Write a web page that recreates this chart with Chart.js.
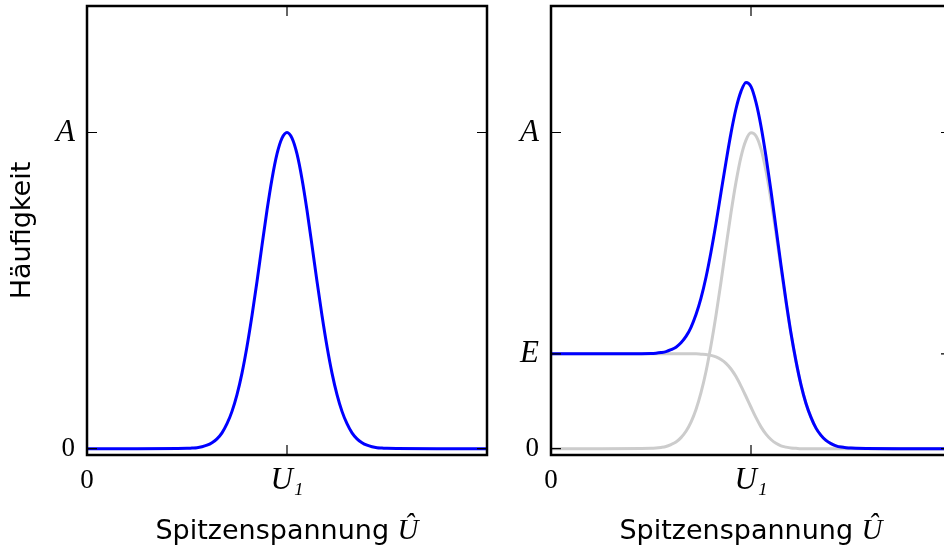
<!DOCTYPE html>
<html>
<head>
<meta charset="utf-8">
<script src="https://cdn.jsdelivr.net/npm/chart.js@4.4.1/dist/chart.umd.min.js"></script>
<style>
html, body { margin: 0; padding: 0; background: #fff; overflow: hidden; width: 944px; height: 549px; }
canvas { position: absolute; top: 0; }
#left { left: 0; }
#right { left: 464px; }
</style>
</head>
<body>
<canvas id="left" width="500" height="549"></canvas>
<canvas id="right" width="500" height="549"></canvas>
<script>
// sample positions along the voltage axis (U1 = 1)
var xs = [0, 0.25, 0.5, 0.525, 0.55, 0.575, 0.6, 0.625, 0.65, 0.675, 0.7, 0.725, 0.75, 0.775, 0.8,
	0.825, 0.85, 0.875, 0.9, 0.925, 0.95, 0.975, 1.0, 1.025, 1.05, 1.075, 1.1, 1.125, 1.15, 1.175,
	1.2, 1.225, 1.25, 1.275, 1.3, 1.325, 1.35, 1.375, 1.4, 1.425, 1.45, 1.475, 1.5, 1.75, 2.0];

// left panel: single peak
var peakLeft = [0, 0, 0.001, 0.002, 0.003, 0.006, 0.011, 0.019, 0.031, 0.050, 0.079, 0.118, 0.171, 0.239, 0.323,
	0.421, 0.529, 0.643, 0.754, 0.853, 0.932, 0.982, 1.0, 0.982, 0.932, 0.853, 0.754, 0.643, 0.529, 0.421,
	0.323, 0.239, 0.171, 0.118, 0.079, 0.050, 0.031, 0.019, 0.011, 0.006, 0.003, 0.002, 0.001, 0, 0];

// right panel: peak, step and their sum
var peakRight = [0, 0, 0.001, 0.002, 0.004, 0.007, 0.013, 0.021, 0.035, 0.055, 0.084, 0.124, 0.177, 0.244, 0.327,
	0.422, 0.527, 0.638, 0.746, 0.843, 0.923, 0.976, 0.999, 0.989, 0.948, 0.878, 0.786, 0.681, 0.571, 0.463,
	0.363, 0.276, 0.202, 0.143, 0.099, 0.065, 0.042, 0.026, 0.016, 0.009, 0.005, 0.003, 0.002, 0, 0];
var stepRight = [0.3, 0.3, 0.3, 0.3, 0.3, 0.3, 0.3, 0.3, 0.3, 0.3, 0.3, 0.3, 0.299, 0.298, 0.295,
	0.290, 0.282, 0.270, 0.252, 0.228, 0.198, 0.165, 0.131, 0.098, 0.069, 0.046, 0.029, 0.017, 0.009, 0.005,
	0.002, 0.001, 0, 0, 0, 0, 0, 0, 0, 0, 0, 0, 0, 0, 0];
var sumRight = [0.3, 0.3, 0.301, 0.302, 0.304, 0.307, 0.313, 0.321, 0.335, 0.355, 0.384, 0.424, 0.476, 0.542, 0.622,
	0.712, 0.810, 0.907, 0.998, 1.075, 1.130, 1.158, 1.145, 1.095, 1.020, 0.924, 0.815, 0.698, 0.580, 0.468,
	0.365, 0.277, 0.202, 0.143, 0.099, 0.065, 0.042, 0.026, 0.016, 0.009, 0.005, 0.003, 0.002, 0, 0];

var xTickValues = [0, 1];
var xTickLabels = ['0', 'U\u2081'];
var leftYValues = [0, 1];
var leftYLabels = ['0', 'A'];
var rightYValues = [0, 0.3, 1];
var rightYLabels = ['0', 'E', 'A'];

function points(ys) {
	return xs.map(function(x, i) { return { x: x, y: ys[i] }; });
}

function tickFont(c) {
	var lbl = c.tick ? c.tick.label : '';
	if (lbl === '0') return { family: 'Liberation Serif', size: 27, lineHeight: '30px' };
	return { family: 'Liberation Serif', size: 31, style: 'italic', lineHeight: '30px' };
}

// matplotlib-like frame: box, inward ticks on all sides, mixed-font x label
var framePlugin = {
	id: 'frame',
	afterDraw: function(chart) {
		var ctx = chart.ctx, a = chart.chartArea;
		var sx = chart.scales.x, sy = chart.scales.y;
		ctx.save();
		ctx.strokeStyle = '#000';
		ctx.lineWidth = 1.2;
		ctx.beginPath();
		sx.ticks.forEach(function(t) {
			var px = sx.getPixelForValue(t.value);
			ctx.moveTo(px, a.bottom); ctx.lineTo(px, a.bottom - 10);
			ctx.moveTo(px, a.top); ctx.lineTo(px, a.top + 10);
		});
		sy.ticks.forEach(function(t) {
			var py = sy.getPixelForValue(t.value);
			ctx.moveTo(a.left, py); ctx.lineTo(a.left + 10, py);
			ctx.moveTo(a.right, py); ctx.lineTo(a.right - 10, py);
		});
		ctx.stroke();
		ctx.lineWidth = 2.5;
		ctx.strokeRect(a.left, a.top, a.right - a.left, a.bottom - a.top);

		var parts = [
			{ text: 'Spitzenspannung ', font: '27px "DejaVu Sans"' },
			{ text: '\u00DB', font: 'italic 29px "Liberation Serif"' }
		];
		var total = 0;
		parts.forEach(function(p) { ctx.font = p.font; p.w = ctx.measureText(p.text).width; total += p.w; });
		var x = (a.left + a.right) / 2 - total / 2;
		ctx.fillStyle = '#000';
		ctx.textBaseline = 'alphabetic';
		ctx.textAlign = 'left';
		parts.forEach(function(p) { ctx.font = p.font; ctx.fillText(p.text, x, 539); x += p.w; });
		ctx.restore();
	}
};

function makeOptions(datasets, yValues, yLabels, yTitle) {
	return {
		type: 'line',
		data: { datasets: datasets },
		options: {
			responsive: false,
			animation: false,
			events: [],
			layout: { padding: { top: 6, right: 13, left: 0, bottom: 0 } },
			plugins: { legend: { display: false }, tooltip: { enabled: false } },
			elements: { point: { radius: 0 }, line: { cubicInterpolationMode: 'monotone', fill: false } },
			scales: {
				x: {
					type: 'linear', min: 0, max: 2,
					grid: { display: false, drawTicks: false },
					border: { display: false },
					afterBuildTicks: function(s) { s.ticks = xTickValues.map(function(v) { return { value: v }; }); },
					afterFit: function(s) { s.height = 94; s.paddingLeft = 0; s.paddingRight = 0; },
					ticks: {
						padding: 11, color: '#000', maxRotation: 0, autoSkip: false,
						font: tickFont,
						callback: function(v) { return xTickLabels[xTickValues.indexOf(v)]; }
					}
				},
				y: {
					type: 'linear', min: -0.02, max: 1.4,
					grid: { display: false, drawTicks: false },
					border: { display: false },
					afterBuildTicks: function(s) { s.ticks = yValues.map(function(v) { return { value: v }; }); },
					afterFit: function(s) { s.width = 87; s.paddingTop = 0; s.paddingBottom = 0; },
					title: {
						display: !!yTitle, text: yTitle || '', color: '#000',
						font: { family: 'DejaVu Sans', size: 27 },
						padding: { top: 7, bottom: 0 }
					},
					ticks: {
						padding: 12, color: '#000', autoSkip: false,
						font: tickFont,
						callback: function(v) { return yLabels[yValues.indexOf(v)]; }
					}
				}
			}
		},
		plugins: [framePlugin]
	};
}

var optionsLeft = makeOptions([
	{ data: points(peakLeft), borderColor: '#0000ff', borderWidth: 3 }
], leftYValues, leftYLabels, 'Häufigkeit');

var optionsRight = makeOptions([
	{ data: points(sumRight), borderColor: '#0000ff', borderWidth: 3 },
	{ data: points(peakRight), borderColor: '#cccccc', borderWidth: 3 },
	{ data: points(stepRight), borderColor: '#cccccc', borderWidth: 3 }
], rightYValues, rightYLabels, null);

new Chart(document.getElementById('left').getContext('2d'), optionsLeft);
new Chart(document.getElementById('right').getContext('2d'), optionsRight);
</script>
</body>
</html>
